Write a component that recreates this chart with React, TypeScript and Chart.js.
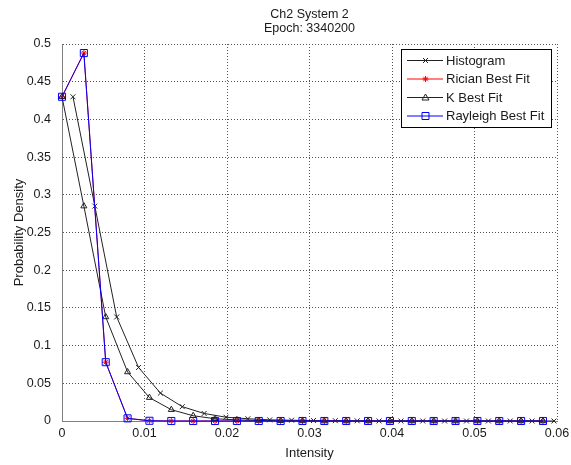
import React, { useEffect, useRef } from 'react';
import { Chart, registerables } from 'chart.js';

Chart.register(...registerables);

// ---- data ----
const fitX = [
  0, 0.00265, 0.0053, 0.00795, 0.0106, 0.01325, 0.0159, 0.01855, 0.0212, 0.02385,
  0.0265, 0.02915, 0.0318, 0.03445, 0.0371, 0.03975, 0.0424, 0.04505, 0.0477,
  0.05035, 0.053, 0.05565, 0.0583,
];
const histX = [
  0.00133, 0.00398, 0.00663, 0.00928, 0.01193, 0.01458, 0.01723, 0.01988, 0.02253,
  0.02518, 0.02783, 0.03048, 0.03313, 0.03578, 0.03843, 0.04108, 0.04373, 0.04638,
  0.04903, 0.05168, 0.05433, 0.05698, 0.05963,
];
const histogramY = [
  0.43, 0.285, 0.138, 0.071, 0.037, 0.019, 0.01, 0.005, 0.003, 0.0015, 0.001, 0.0006,
  0.0004, 0.0002, 0.0001, 0, 0, 0, 0, 0, 0, 0, 0,
];
const ricianY = [
  0.43, 0.488, 0.078, 0.0035, 0.0003, 0, 0, 0, 0, 0, 0, 0, 0, 0, 0, 0, 0, 0, 0, 0, 0, 0, 0,
];
const kY = [
  0.43, 0.285, 0.138, 0.065, 0.031, 0.015, 0.007, 0.003, 0.0015, 0.0007, 0.0003, 0.0001,
  0, 0, 0, 0, 0, 0, 0, 0, 0, 0, 0,
];
const rayleighY = [
  0.43, 0.488, 0.078, 0.0035, 0.0003, 0, 0, 0, 0, 0, 0, 0, 0, 0, 0, 0, 0, 0, 0, 0, 0, 0, 0,
];

const xTickValues = [0, 0.01, 0.02, 0.03, 0.04, 0.05, 0.06];
const xTickLabels = ['0', '0.01', '0.02', '0.03', '0.04', '0.05', '0.06'];
const yTickValues = [0, 0.05, 0.1, 0.15, 0.2, 0.25, 0.3, 0.35, 0.4, 0.45, 0.5];
const yTickLabels = ['0', '0.05', '0.1', '0.15', '0.2', '0.25', '0.3', '0.35', '0.4', '0.45', '0.5'];

const titleLines = ['Ch2 System 2', 'Epoch: 3340200'];
const xAxisLabel = 'Intensity';
const yAxisLabel = 'Probability Density';
const legendLabels = ['Histogram', 'Rician Best Fit', 'K Best Fit', 'Rayleigh Best Fit'];

const FONT = '"Liberation Sans", Arial, Helvetica, sans-serif';

function pts(xs: number[], ys: number[]) {
  return xs.map((x, i) => ({ x, y: ys[i] }));
}

function drawMarker(ctx: CanvasRenderingContext2D, kind: string, x: number, y: number, color: string) {
  ctx.save();
  ctx.strokeStyle = color;
  ctx.lineWidth = 1;
  ctx.beginPath();
  if (kind === 'x') {
    const r = 2.5;
    ctx.moveTo(x - r, y - r); ctx.lineTo(x + r, y + r);
    ctx.moveTo(x - r, y + r); ctx.lineTo(x + r, y - r);
  } else if (kind === 'star') {
    const r = 3;
    ctx.moveTo(x - r, y); ctx.lineTo(x + r, y);
    ctx.moveTo(x, y - r); ctx.lineTo(x, y + r);
    const d = r * 0.75;
    ctx.moveTo(x - d, y - d); ctx.lineTo(x + d, y + d);
    ctx.moveTo(x - d, y + d); ctx.lineTo(x + d, y - d);
  } else if (kind === 'tri') {
    ctx.moveTo(x, y - 3.5); ctx.lineTo(x + 3.5, y + 2.5); ctx.lineTo(x - 3.5, y + 2.5); ctx.closePath();
  } else if (kind === 'sq') {
    ctx.rect(x - 3.5, y - 3.5, 7, 7);
  }
  ctx.stroke();
  ctx.restore();
}

const overlayPlugin = {
  id: 'overlay',
  afterDraw(chart: any) {
    const ctx: CanvasRenderingContext2D = chart.ctx;
    const a = chart.chartArea;
    const cx = (a.left + a.right) / 2;
    ctx.save();
    ctx.fillStyle = '#1a1a1a';
    ctx.textAlign = 'center';
    ctx.textBaseline = 'alphabetic';
    ctx.font = `12.5px ${FONT}`;
    ctx.fillText(titleLines[0], cx, 18);
    ctx.fillText(titleLines[1], cx, 31.5);
    ctx.font = `13px ${FONT}`;
    ctx.fillText(xAxisLabel, cx, 457);
    ctx.save();
    ctx.translate(23, (a.top + a.bottom) / 2);
    ctx.rotate(-Math.PI / 2);
    ctx.fillText(yAxisLabel, 0, 0);
    ctx.restore();

    // legend box
    const lx = 401.5, ly = 49.5, lw = 150, lh = 78;
    ctx.fillStyle = '#ffffff';
    ctx.fillRect(lx, ly, lw, lh);
    ctx.strokeStyle = '#000000';
    ctx.lineWidth = 1;
    ctx.strokeRect(lx, ly, lw, lh);
    const rows = [60.5, 79, 97.5, 116];
    const lineColors = ['#222222', '#ff0000', '#222222', '#0000ff'];
    const markers = ['x', 'star', 'tri', 'sq'];
    ctx.save();
    ctx.beginPath();
    ctx.rect(lx, ly, lw, lh);
    ctx.clip();
    rows.forEach((ry, i) => {
      ctx.strokeStyle = lineColors[i];
      ctx.lineWidth = 1;
      ctx.beginPath();
      ctx.moveTo(407, ry);
      ctx.lineTo(443, ry);
      ctx.stroke();
      drawMarker(ctx, markers[i], 425.5, ry, lineColors[i]);
      ctx.fillStyle = '#1a1a1a';
      ctx.textAlign = 'left';
      ctx.textBaseline = 'middle';
      ctx.font = `13px ${FONT}`;
      ctx.fillText(legendLabels[i], 446, ry + 0.5);
    });
    ctx.restore();
    ctx.restore();
  },
};

export default function App() {
  const ref = useRef<HTMLCanvasElement | null>(null);

  useEffect(() => {
    document.body.style.margin = '0';
    const canvas = ref.current;
    if (!canvas) return;
    const chart = new Chart(canvas, {
      type: 'line',
      data: {
        datasets: [
          {
            label: legendLabels[0],
            data: pts(histX, histogramY),
            borderColor: '#222222',
            backgroundColor: 'transparent',
            borderWidth: 1,
            pointStyle: 'crossRot',
            pointRadius: 3.5,
            pointBorderColor: '#222222',
            pointBorderWidth: 1,
            tension: 0,
            clip: false,
            order: 3,
          },
          {
            label: legendLabels[1],
            data: pts(fitX, ricianY),
            borderColor: '#ff0000',
            backgroundColor: 'transparent',
            borderWidth: 1,
            pointStyle: 'star',
            pointRadius: 3,
            pointBorderColor: '#ff0000',
            pointBorderWidth: 1,
            tension: 0,
            clip: false,
            order: 2,
          },
          {
            label: legendLabels[2],
            data: pts(fitX, kY),
            borderColor: '#222222',
            backgroundColor: 'transparent',
            borderWidth: 1,
            pointStyle: 'triangle',
            pointRadius: 3.5,
            pointBorderColor: '#222222',
            pointBackgroundColor: 'transparent',
            pointBorderWidth: 1,
            tension: 0,
            clip: false,
            order: 1,
          },
          {
            label: legendLabels[3],
            data: pts(fitX, rayleighY),
            borderColor: '#0000ff',
            backgroundColor: 'transparent',
            borderWidth: 1,
            pointStyle: 'rect',
            pointRadius: 5,
            pointBorderColor: '#0000ff',
            pointBackgroundColor: 'transparent',
            pointBorderWidth: 1,
            tension: 0,
            clip: false,
            order: 0,
          },
        ],
      },
      options: {
        responsive: false,
        animation: false,
        devicePixelRatio: 1,
        events: [],
        layout: { padding: { top: 44, right: 14, left: 0, bottom: 0 } },
        plugins: {
          legend: { display: false },
          title: { display: false },
          tooltip: { enabled: false },
        },
        scales: {
          x: {
            type: 'linear',
            min: 0,
            max: 0.06,
            afterBuildTicks: (s: any) => {
              s.ticks = xTickValues.map((v) => ({ value: v }));
            },
            afterFit: (s: any) => {
              s.height = 44;
              s.paddingLeft = 0;
              s.paddingRight = 0;
            },
            ticks: {
              autoSkip: false,
              maxRotation: 0,
              padding: 5,
              color: '#1a1a1a',
              font: { family: FONT, size: 12.5 },
              callback: (_v: any, i: number) => xTickLabels[i],
            },
            grid: { color: '#555555', lineWidth: 1, drawTicks: false },
            border: { display: true, color: '#808080', width: 1, dash: [1, 2] },
          },
          y: {
            type: 'linear',
            min: 0,
            max: 0.5,
            afterBuildTicks: (s: any) => {
              s.ticks = yTickValues.map((v) => ({ value: v }));
            },
            afterFit: (s: any) => {
              s.width = 62;
              s.paddingTop = 0;
              s.paddingBottom = 0;
            },
            ticks: {
              autoSkip: false,
              padding: 11,
              color: '#1a1a1a',
              font: { family: FONT, size: 12.5 },
              callback: (_v: any, i: number) => yTickLabels[i],
            },
            grid: { color: '#555555', lineWidth: 1, drawTicks: false },
            border: { display: true, color: '#808080', width: 1, dash: [1, 2] },
          },
        },
      } as any,
      plugins: [overlayPlugin],
    });
    return () => chart.destroy();
  }, []);

  return (
    <div style={{ position: 'fixed', left: 0, top: 0, width: 571, height: 465, background: '#ffffff' }}>
      <canvas ref={ref} width={571} height={465} style={{ display: 'block', width: 571, height: 465 }} />
    </div>
  );
}
